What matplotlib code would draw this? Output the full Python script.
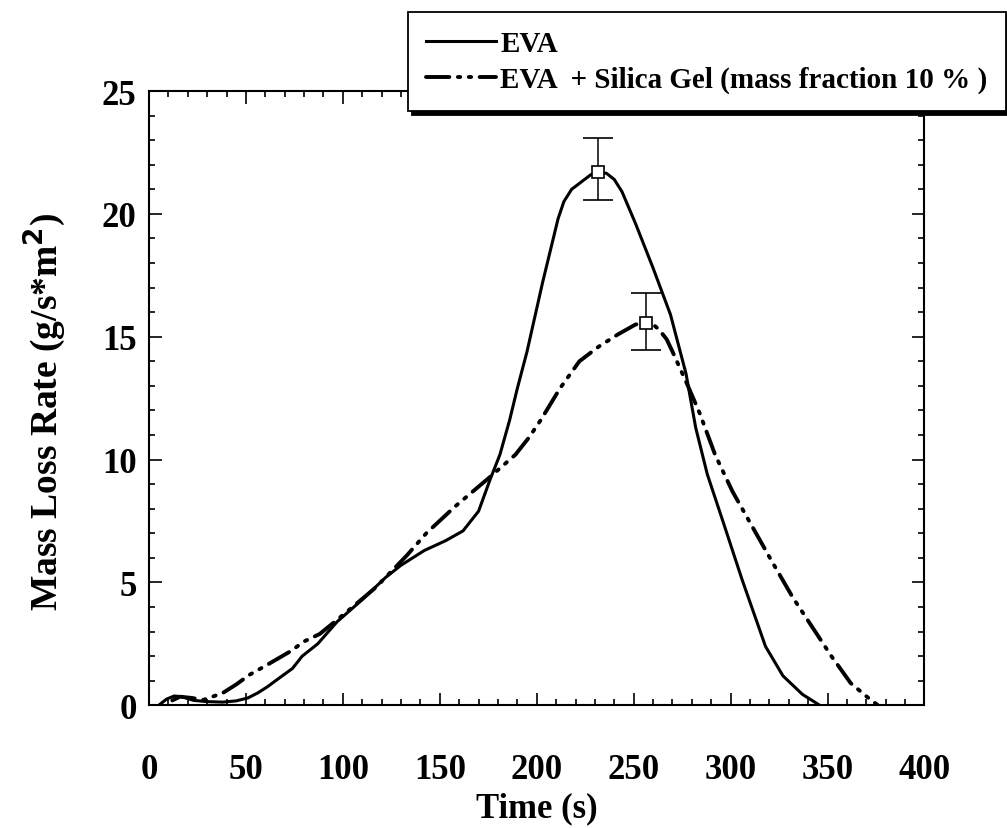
import matplotlib
matplotlib.use("Agg")
import matplotlib.pyplot as plt
from matplotlib.ticker import MultipleLocator

plt.rcParams['font.family'] = ['Liberation Serif', 'DejaVu Serif']
plt.rcParams['font.weight'] = 'bold'

# EVA (solid line)
t_eva = [5, 9, 13, 17, 23, 30, 38, 45, 51, 56, 61, 67, 74, 79, 87, 97, 110, 122, 130,
         142, 153, 162, 170, 176, 181, 186, 190, 195, 199, 203, 207, 211, 214, 218, 223,
         228, 232, 236, 240, 244, 251, 260, 269, 277, 282, 288, 296, 306, 318, 327, 337, 346]
v_eva = [0.0, 0.25, 0.38, 0.35, 0.2, 0.15, 0.13, 0.18, 0.3, 0.5, 0.75, 1.1, 1.5, 2.0, 2.5, 3.4,
         4.3, 5.2, 5.7, 6.3, 6.7, 7.1, 7.9, 9.2, 10.2, 11.6, 12.9, 14.4, 15.8, 17.2, 18.5,
         19.8, 20.5, 21.0, 21.3, 21.6, 21.7, 21.65, 21.4, 20.9, 19.6, 17.8, 15.9, 13.5,
         11.3, 9.4, 7.5, 5.1, 2.4, 1.2, 0.45, 0.0]

# EVA + Silica Gel (dash-dot line)
t_sg = [12, 16, 22, 28, 38, 45, 52, 61, 73, 80, 88, 102, 117, 133, 143, 158, 176, 189,
        196, 202, 212, 222, 232, 242, 251, 256, 260, 263, 267, 270, 274, 278, 284, 292,
        301, 311, 321, 332, 342, 352, 362, 370, 376]
v_sg = [0.2, 0.35, 0.3, 0.22, 0.5, 0.85, 1.25, 1.65, 2.2, 2.6, 2.9, 3.8, 4.8, 6.1, 7.0,
        8.1, 9.3, 10.2, 10.9, 11.6, 12.9, 14.0, 14.6, 15.1, 15.5, 15.55, 15.5, 15.3, 14.9,
        14.4, 13.7, 13.0, 11.9, 10.2, 8.7, 7.3, 5.9, 4.4, 3.2, 2.0, 0.9, 0.37, 0.0]

# peak markers with error bars
peak_t = [231.6, 256.4]
peak_v = [21.7, 15.55]
err_low = [1.15, 1.1]
err_high = [1.4, 1.25]

labels = ["EVA", "EVA  + Silica Gel (mass fraction 10 % )"]

fig = plt.figure(figsize=(10.07, 8.29), dpi=100)
ax = fig.add_axes([0.148, 0.148, 0.770, 0.741])

l1, = ax.plot(t_eva, v_eva, color='black', lw=2.2, solid_joinstyle='round')
l2, = ax.plot(t_sg, v_sg, color='black', lw=2.8, dash_capstyle='round',
              linestyle=(0, (6, 2.2, 0.6, 2.2, 0.6, 2.2)))

ax.errorbar(peak_t, peak_v, yerr=[err_low, err_high], fmt='s', mfc='white', mec='black',
            mew=1.2, ms=9, ecolor='black', elinewidth=1.1, capsize=11, capthick=1.1,
            zorder=5)

ax.set_xlim(0, 400)
ax.set_ylim(0, 25)
ax.xaxis.set_major_locator(MultipleLocator(50))
ax.xaxis.set_minor_locator(MultipleLocator(10))
ax.yaxis.set_major_locator(MultipleLocator(5))
ax.yaxis.set_minor_locator(MultipleLocator(1))
ax.tick_params(which='both', direction='in', top=True, right=True, width=1.2)
ax.tick_params(which='major', length=9)
ax.tick_params(which='minor', length=4)
ax.tick_params(axis='x', which='major', pad=34, labelsize=25)
ax.tick_params(axis='y', which='major', pad=9, labelsize=25)
for s in ax.spines.values():
    s.set_linewidth(1.5)

ax.set_xlabel("Time (s)", fontsize=25, fontweight='bold', labelpad=4)
ax.set_ylabel("Mass Loss Rate (g/s*m$^\\mathbf{2}$)", fontsize=27, fontweight='bold')
ax.yaxis.set_label_coords(-0.105, 0.48)

leg = fig.legend([l1, l2], labels, loc='upper left', bbox_to_anchor=(408 / 1007, 1 - 13 / 829),
                 borderaxespad=0, fancybox=False, framealpha=1, edgecolor='black',
                 prop={'family': 'Liberation Serif', 'weight': 'bold', 'size': 21},
                 handlelength=2.4, handletextpad=0.15, labelspacing=0.3, borderpad=0.62,
                 shadow={'ox': 3, 'oy': -3, 'facecolor': 'black', 'edgecolor': 'black', 'alpha': 1})
leg.get_frame().set_linewidth(1.3)

fig.savefig("out.png", dpi=100)
